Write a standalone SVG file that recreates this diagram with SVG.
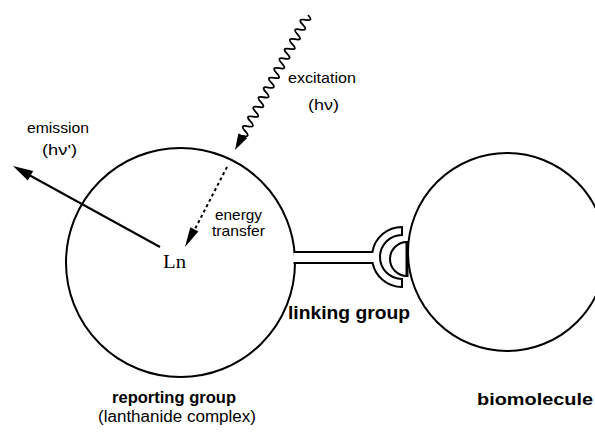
<svg xmlns="http://www.w3.org/2000/svg" width="595" height="441" viewBox="0 0 595 441">
<style>
.ln{fill:none;stroke:#000;stroke-width:2}
.t{font-family:"Liberation Sans",Arial,sans-serif;fill:#000}
.b{font-weight:bold}
</style>
<rect width="595" height="441" fill="#fff"/>
<g id="reporting">
<circle class="ln" cx="180.5" cy="262.5" r="114.5"/>
<text x="163" y="268" font-family="Liberation Serif,serif" font-size="18" textLength="23" lengthAdjust="spacingAndGlyphs">Ln</text>
<text class="t b" x="112" y="403" font-size="16" textLength="124" lengthAdjust="spacingAndGlyphs">reporting group</text>
<text class="t" x="98" y="422" font-size="16" textLength="158" lengthAdjust="spacingAndGlyphs">(lanthanide complex)</text>
</g>
<g id="biomolecule">
<circle class="ln" cx="507" cy="252" r="99"/>
<path d="M407,242 A17,17 0 0 0 407,276 Z" fill="#fff" stroke="#000" stroke-width="2"/>
<line x1="407" y1="241" x2="407" y2="277" stroke="#000" stroke-width="3"/>
<text class="t b" x="477" y="405" font-size="17" textLength="116" lengthAdjust="spacingAndGlyphs">biomolecule</text>
</g>
<g id="linker">
<path d="M293.5,263 L372.6,263 A30,30 0 0 0 402,287 L402,279 A22,22 0 0 1 402,235 L402,227 A30,30 0 0 0 372.4,252 L293.6,252" fill="#fff" stroke="#000" stroke-width="2"/>
<text class="t b" x="288" y="319" font-size="18" textLength="122" lengthAdjust="spacingAndGlyphs">linking group</text>
</g>
<g id="connectors">
<g id="emission">
<line x1="160" y1="247" x2="30" y2="175.5" stroke="#000" stroke-width="2"/>
<polygon points="13,166 33.2,170.9 27.8,180.5" fill="#000"/>
</g>
<g id="excitation" transform="translate(308,15) rotate(118.4)">
<path d="M0,0 q2.75,-8.5 5.5,0 t5.5,0 t5.5,0 t5.5,0 t5.5,0 t5.5,0 t5.5,0 t5.5,0 t5.5,0 t5.5,0 t5.5,0 t5.5,0 t5.5,0 t5.5,0 t5.5,0 t5.5,0 t5.5,0 t5.5,0 t5.5,0 t5.5,0 t5.5,0 t5.5,0 t5.5,0 t5.5,0 t5.5,0 L140,0" fill="none" stroke="#000" stroke-width="1.8"/>
<polygon points="153.5,0 137,-5 137,5" fill="#000"/>
</g>
<g id="energy-transfer">
<line x1="227" y1="167" x2="195" y2="229" stroke="#000" stroke-width="2" stroke-dasharray="3,3"/>
<polygon points="185,247 198.3,231.4 190.3,227.2" fill="#000"/>
</g>
</g>
<g id="labels">
<text class="t" x="288" y="83" font-size="14.5" textLength="68" lengthAdjust="spacingAndGlyphs">excitation</text>
<text class="t" x="308" y="110" font-size="15" textLength="31" lengthAdjust="spacingAndGlyphs">(hν)</text>
<text class="t" x="27" y="133" font-size="14.5" textLength="62" lengthAdjust="spacingAndGlyphs">emission</text>
<text class="t" x="42" y="155" font-size="15" textLength="35" lengthAdjust="spacingAndGlyphs">(hν')</text>
<text class="t" x="215" y="220" font-size="14.5" textLength="47" lengthAdjust="spacingAndGlyphs">energy</text>
<text class="t" x="212" y="236" font-size="14.5" textLength="53" lengthAdjust="spacingAndGlyphs">transfer</text>
</g>
</svg>
